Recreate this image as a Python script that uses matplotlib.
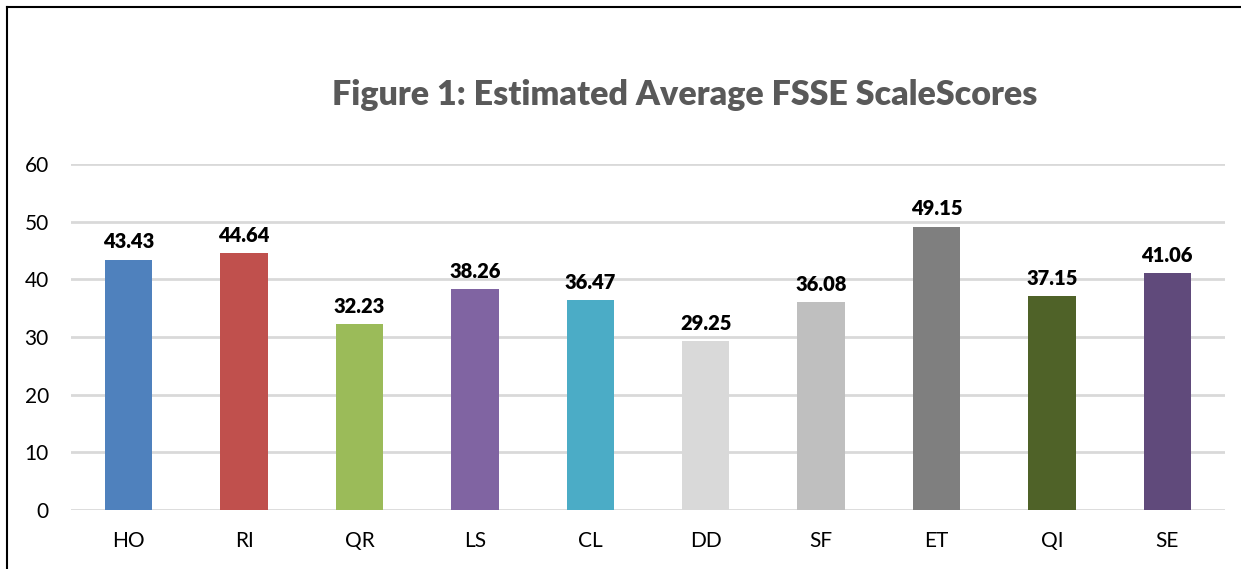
import matplotlib
matplotlib.use("Agg")
import matplotlib.pyplot as plt
from matplotlib.lines import Line2D

categories = ["HO", "RI", "QR", "LS", "CL", "DD", "SF", "ET", "QI", "SE"]
values = [43.43, 44.64, 32.23, 38.26, 36.47, 29.25, 36.08, 49.15, 37.15, 41.06]
colors = ["#4F81BD", "#C0504D", "#9BBB59", "#8064A2", "#4BACC6",
          "#D9D9D9", "#BFBFBF", "#7F7F7F", "#4F6228", "#604A7B"]
yticks = [0, 10, 20, 30, 40, 50, 60]
title = "Figure 1: Estimated Average FSSE ScaleScores"

plt.rcParams['font.family'] = ['Lato', 'DejaVu Sans']

W, H = 1241, 569
fig = plt.figure(figsize=(W / 100, H / 100), dpi=100)
ax = fig.add_axes([71 / W, 1 - 510 / H, (1225 - 71) / W, (510 - 164) / H])

x = list(range(len(categories)))
ax.bar(x, values, width=0.41, color=colors, zorder=3)
for xi, v in zip(x, values):
    ax.text(xi, v + 1.4, f"{v:.2f}", ha="center", va="bottom",
            fontsize=14.5, fontweight="heavy", color="black")

ax.set_xlim(-0.5, len(categories) - 0.5)
ax.set_ylim(0, 60)
ax.set_yticks(yticks)
ax.set_xticks(x)
ax.set_xticklabels(categories)
ax.tick_params(axis="both", length=0, labelsize=15, colors="black")
ax.tick_params(axis="x", pad=15)
ax.tick_params(axis="y", pad=16)
ax.grid(axis="y", color="#D9D9D9", linewidth=2, zorder=0)
for s in ax.spines.values():
    s.set_visible(False)

fig.text(685 / W, 1 - 95 / H, title, ha="center", va="center",
         fontsize=24.5, fontweight="heavy", color="#595959")

# outer border (top and left)
fig.add_artist(Line2D([7 / W, 7 / W], [0, 1 - 7 / H], transform=fig.transFigure,
                      color="black", linewidth=1.5))
fig.add_artist(Line2D([7 / W, 1], [1 - 7 / H, 1 - 7 / H], transform=fig.transFigure,
                      color="black", linewidth=1.5))

fig.savefig("out.png", dpi=100, facecolor="white")
